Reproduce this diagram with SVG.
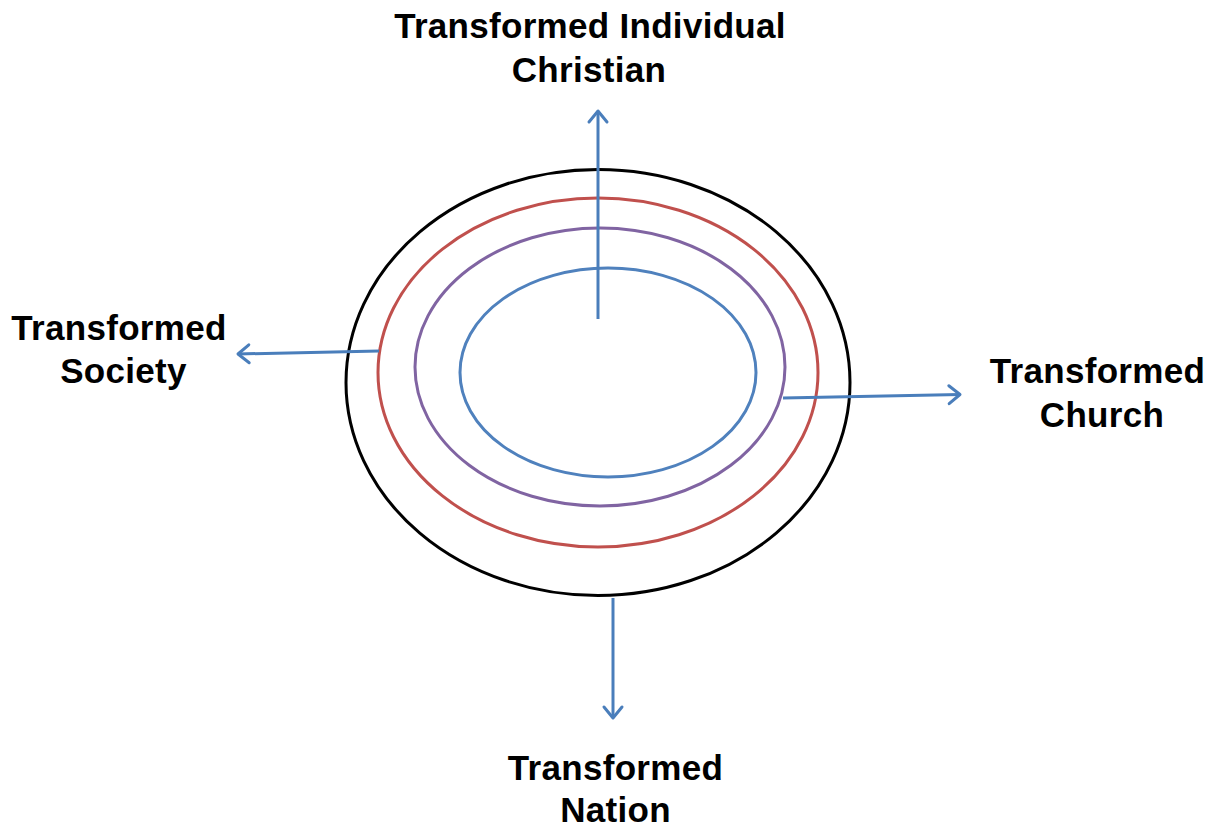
<svg xmlns="http://www.w3.org/2000/svg" width="1217" height="830" viewBox="0 0 1217 830">
<style>
.lbl{font-family:"Liberation Sans",Arial,sans-serif;font-weight:bold;font-size:35px;letter-spacing:0.3px;fill:#000;text-anchor:middle}
.ring{fill:none}
.arr{stroke:#4a7ebb;stroke-width:3;fill:none;marker-end:url(#ah)}
</style>
<defs>
<marker id="ah" markerUnits="userSpaceOnUse" markerWidth="24" markerHeight="24" viewBox="-14 -12 16 24" refX="0" refY="0" orient="auto">
<path d="M-11,-9 L0,0 L-11,9" fill="none" stroke="#4a7ebb" stroke-width="3" stroke-linecap="round" stroke-linejoin="round"/>
</marker>
</defs>
<rect width="1217" height="830" fill="#fff"/>
<g id="ring-outer"><ellipse class="ring" cx="598" cy="382.5" rx="252" ry="213" stroke="#000" stroke-width="3"/></g>
<g id="ring-red"><ellipse class="ring" cx="598" cy="372.5" rx="220" ry="174.5" stroke="#c0504d" stroke-width="3"/></g>
<g id="ring-purple"><ellipse class="ring" cx="600" cy="367" rx="185" ry="139" stroke="#8064a2" stroke-width="3"/></g>
<g id="ring-blue"><ellipse class="ring" cx="608" cy="372.5" rx="148" ry="104.5" stroke="#4f81bd" stroke-width="3"/></g>
<g id="connectors">
<line class="arr" x1="598" y1="319" x2="598" y2="111"/>
<line class="arr" x1="379" y1="351" x2="238" y2="354"/>
<line class="arr" x1="783" y1="398" x2="960" y2="394.5"/>
<line class="arr" x1="613" y1="598" x2="613" y2="718"/>
</g>
<g id="label-individual">
<text class="lbl" x="590" y="37.5">Transformed Individual</text>
<text class="lbl" x="589" y="81.5">Christian</text>
</g>
<g id="label-society">
<text class="lbl" x="119" y="340">Transformed</text>
<text class="lbl" x="123.5" y="383">Society</text>
</g>
<g id="label-church">
<text class="lbl" x="1097.5" y="383">Transformed</text>
<text class="lbl" x="1102" y="427">Church</text>
</g>
<g id="label-nation">
<text class="lbl" x="615.5" y="780">Transformed</text>
<text class="lbl" x="615.5" y="822">Nation</text>
</g>
</svg>
